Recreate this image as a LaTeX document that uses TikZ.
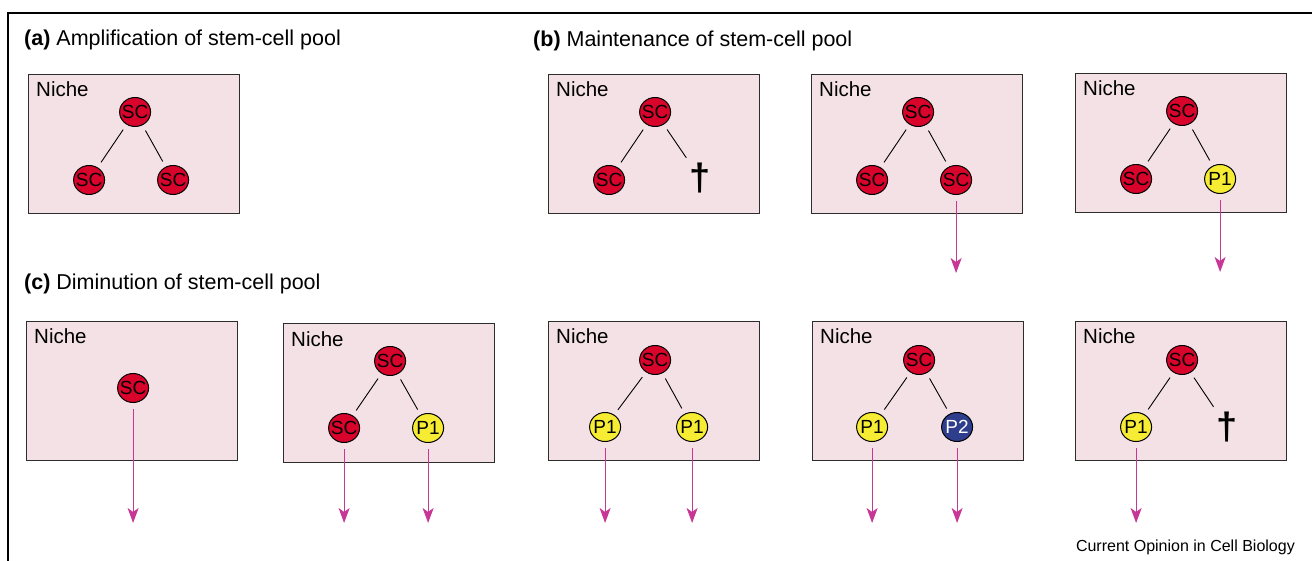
\documentclass[tikz,border=0pt]{standalone}
\usepackage{fontspec}
\setmainfont{Liberation Sans}
\usetikzlibrary{calc,shapes.geometric,arrows.meta}

\definecolor{nichefill}{RGB}{243,225,229}
\definecolor{nicheedge}{RGB}{45,45,45}
\definecolor{scred}{RGB}{217,4,43}
\definecolor{pyellow}{RGB}{245,236,51}
\definecolor{pblue}{RGB}{46,62,140}
\definecolor{fate}{RGB}{200,55,150}

% cell label centred in the ellipse without widening it
\newcommand\cl[1]{\makebox[0pt]{#1}}

\tikzset{
  nichebox/.style={draw=nicheedge, fill=nichefill, line width=1.2pt,
    minimum width=211pt, minimum height=139pt, anchor=north west, inner sep=0pt},
  nichelabel/.style={anchor=base west, inner sep=0pt, font=\fontsize{20.5}{24}\selectfont},
  cell/.style={ellipse, draw=black, line width=1pt, minimum width=31pt,
    minimum height=29pt, inner sep=0pt, font=\fontsize{19}{22}\selectfont},
  sc/.style={cell, fill=scred},
  pone/.style={cell, fill=pyellow},
  ptwo/.style={cell, fill=pblue, text=white},
  dead/.style={inner sep=0pt, font=\fontsize{38}{40}\selectfont\bfseries},
  branch/.style={line width=0.9pt, shorten <=6pt, shorten >=6pt},
  fatearrow/.style={draw=fate, line width=1.2pt, shorten <=6pt,
    -{Stealth[length=15pt, width=11pt, inset=4pt]}},
  paneltitle/.style={anchor=base west, inner sep=0pt, font=\fontsize{21.5}{25}\selectfont},
}

% niche box with its label; #1 name, (#2,#3) upper-left corner
\newcommand\nichebox[3]{%
  \node[nichebox] (#1) at (#2,#3) {};
  \node[nichelabel] (#1lab) at ($(#1.north west)+(8,23)$) {Niche};
}

\begin{document}
\begin{tikzpicture}[x=1pt, y=-1pt]
\useasboundingbox (0,0) rectangle (1312,561);

% outer frame (top and left rules)
\coordinate (frameL) at (8,561);
\coordinate (frameC) at (8,13);
\coordinate (frameR) at (1312,13);
\draw[line width=1.5pt] (frameL) -- (frameC) -- (frameR);

% panel titles
\node[paneltitle] (ta) at (24,46) {\textbf{(a)} Amplification of stem-cell pool};
\node[paneltitle] (tb) at (533,47) {\textbf{(b)} Maintenance of stem-cell pool};
\node[paneltitle] (tc) at (24,290) {\textbf{(c)} Diminution of stem-cell pool};

% ---------- (a) amplification ----------
\nichebox{A}{28}{74}
\node[sc] (a0) at ($(A.north)+(1,38)$) {\cl{SC}};
\node[sc] (a1) at ($(A.north)+(-45,106)$) {\cl{SC}};
\node[sc] (a2) at ($(A.north)+(39,106)$) {\cl{SC}};
\draw[branch] (a0) -- (a1);
\draw[branch] (a0) -- (a2);

% ---------- (b) maintenance ----------
\nichebox{B1}{548}{74}
\node[sc] (b10) at ($(B1.north)+(1,38)$) {\cl{SC}};
\node[sc] (b11) at ($(B1.north)+(-45,106)$) {\cl{SC}};
\node[dead] (b12) at ($(B1.north)+(46,104)$) {†};
\draw[branch] (b10) -- (b11);
\draw[branch] (b10) -- (b12);

\nichebox{B2}{811}{74}
\node[sc] (b20) at ($(B2.north)+(1,38)$) {\cl{SC}};
\node[sc] (b21) at ($(B2.north)+(-45,106)$) {\cl{SC}};
\node[sc] (b22) at ($(B2.north)+(39,106)$) {\cl{SC}};
\draw[branch] (b20) -- (b21);
\draw[branch] (b20) -- (b22);
\coordinate (b2end) at ($(b22)+(0,93)$);
\draw[fatearrow] (b22) -- (b2end);

\nichebox{B3}{1075}{73}
\node[sc] (b30) at ($(B3.north)+(1,38)$) {\cl{SC}};
\node[sc] (b31) at ($(B3.north)+(-45,106)$) {\cl{SC}};
\node[pone] (b32) at ($(B3.north)+(39,106)$) {\cl{P1}};
\draw[branch] (b30) -- (b31);
\draw[branch] (b30) -- (b32);
\coordinate (b3end) at ($(b32)+(0,93)$);
\draw[fatearrow] (b32) -- (b3end);

% ---------- (c) diminution ----------
\nichebox{C1}{26}{321}
\node[sc] (c10) at ($(C1.north)+(1,67)$) {\cl{SC}};
\coordinate (c1end) at ($(c10)+(0,135)$);
\draw[fatearrow] (c10) -- (c1end);

\nichebox{C2}{283}{323}
\node[sc] (c20) at ($(C2.north)+(1,38)$) {\cl{SC}};
\node[sc] (c21) at ($(C2.north)+(-45,105)$) {\cl{SC}};
\node[pone] (c22) at ($(C2.north)+(39,105)$) {\cl{P1}};
\draw[branch] (c20) -- (c21);
\draw[branch] (c20) -- (c22);
\coordinate (c21end) at ($(c21)+(0,95)$);
\coordinate (c22end) at ($(c22)+(0,95)$);
\draw[fatearrow] (c21) -- (c21end);
\draw[fatearrow] (c22) -- (c22end);

\nichebox{C3}{548}{321}
\node[sc] (c30) at ($(C3.north)+(1,39)$) {\cl{SC}};
\node[pone] (c31) at ($(C3.north)+(-49,106)$) {\cl{P1}};
\node[pone] (c32) at ($(C3.north)+(38,106)$) {\cl{P1}};
\draw[branch] (c30) -- (c31);
\draw[branch] (c30) -- (c32);
\coordinate (c31end) at ($(c31)+(0,96)$);
\coordinate (c32end) at ($(c32)+(0,96)$);
\draw[fatearrow] (c31) -- (c31end);
\draw[fatearrow] (c32) -- (c32end);

\nichebox{C4}{812}{321}
\node[sc] (c40) at ($(C4.north)+(1,39)$) {\cl{SC}};
\node[pone] (c41) at ($(C4.north)+(-46,106)$) {\cl{P1}};
\node[ptwo] (c42) at ($(C4.north)+(39,106)$) {\cl{P2}};
\draw[branch] (c40) -- (c41);
\draw[branch] (c40) -- (c42);
\coordinate (c41end) at ($(c41)+(0,96)$);
\coordinate (c42end) at ($(c42)+(0,96)$);
\draw[fatearrow] (c41) -- (c41end);
\draw[fatearrow] (c42) -- (c42end);

\nichebox{C5}{1075}{321}
\node[sc] (c50) at ($(C5.north)+(1,39)$) {\cl{SC}};
\node[pone] (c51) at ($(C5.north)+(-45,106)$) {\cl{P1}};
\node[dead] (c52) at ($(C5.north)+(46,106)$) {†};
\draw[branch] (c50) -- (c51);
\draw[branch] (c50) -- (c52);
\coordinate (c51end) at ($(c51)+(0,96)$);
\draw[fatearrow] (c51) -- (c51end);

% journal credit
\node[anchor=base east, inner sep=0pt, font=\fontsize{16}{19}\selectfont] (credit)
  at (1295,551) {Current Opinion in Cell Biology};
\end{tikzpicture}
\end{document}
